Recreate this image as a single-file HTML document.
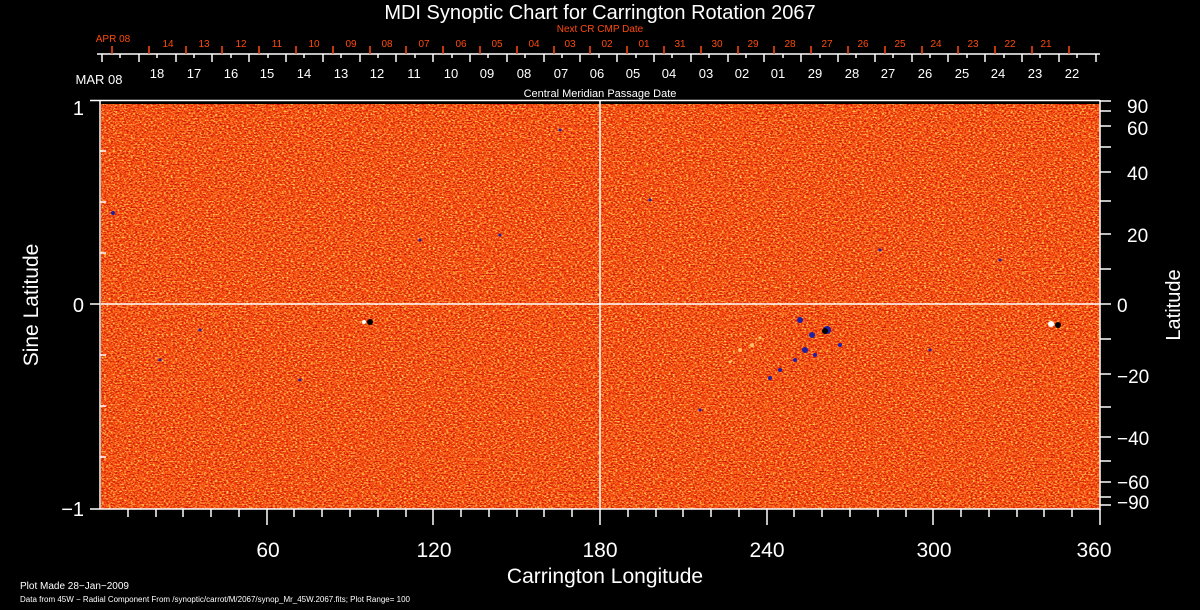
<!DOCTYPE html>
<html><head><meta charset="utf-8"><style>
html,body{margin:0;padding:0;background:#000;}
svg{display:block;}
text{font-family:"Liberation Sans",sans-serif;fill:#fff;}
</style></head><body>
<svg width="1200" height="610" viewBox="0 0 1200 610" xmlns="http://www.w3.org/2000/svg">
<defs>
<filter id="n" x="0" y="0" width="100%" height="100%" filterUnits="objectBoundingBox" color-interpolation-filters="sRGB">
<feTurbulence type="fractalNoise" baseFrequency="0.45 0.7" numOctaves="2" seed="7" result="t"/>
<feColorMatrix type="matrix" values="1 0 0 0 0 1 0 0 0 0 1 0 0 0 0 0 0 0 0 1"/>
<feComponentTransfer>
<feFuncR type="linear" slope="2.2" intercept="-0.6"/>
<feFuncG type="linear" slope="2.2" intercept="-0.6"/>
<feFuncB type="linear" slope="2.2" intercept="-0.6"/>
</feComponentTransfer>
<feComponentTransfer>
<feFuncR type="table" tableValues="0.78 0.88 0.94 0.98 1 1"/>
<feFuncG type="table" tableValues="0.08 0.16 0.26 0.38 0.52 0.8"/>
<feFuncB type="table" tableValues="0.05 0.04 0.06 0.1 0.15 0.35"/>
<feFuncA type="table" tableValues="1 1"/>
</feComponentTransfer>
</filter>
</defs>
<rect x="0" y="0" width="1200" height="610" fill="#000"/>
<rect x="101" y="104" width="999" height="405" fill="#e8501c"/>
<rect x="101" y="104" width="999" height="405" filter="url(#n)"/>
<g fill="#2020a0">
<circle cx="800" cy="320" r="3"/><circle cx="812" cy="335" r="3"/><circle cx="827" cy="330" r="4"/><circle cx="805" cy="350" r="3"/><circle cx="795" cy="360" r="2"/><circle cx="815" cy="355" r="2"/><circle cx="780" cy="370" r="2"/><circle cx="770" cy="378" r="2"/><circle cx="840" cy="345" r="2"/>
<circle cx="200" cy="330" r="1.5"/><circle cx="420" cy="240" r="1.5"/><circle cx="500" cy="235" r="1.5"/><circle cx="930" cy="350" r="1.5"/><circle cx="700" cy="410" r="1.5"/><circle cx="300" cy="380" r="1.5"/><circle cx="1000" cy="260" r="1.5"/><circle cx="650" cy="200" r="1.5"/>
<circle cx="113" cy="213" r="2"/><circle cx="160" cy="360" r="1.5"/><circle cx="880" cy="250" r="1.5"/><circle cx="560" cy="130" r="1.5"/>
</g>
<circle cx="825" cy="331" r="3" fill="#000"/>
<circle cx="370" cy="322" r="3" fill="#000"/><circle cx="364" cy="322" r="2" fill="#fff"/>
<circle cx="1058" cy="325" r="3" fill="#000"/><circle cx="1051" cy="324" r="3" fill="#fff"/>
<g fill="#ffe080" opacity="0.8">
<circle cx="740" cy="350" r="2"/><circle cx="752" cy="345" r="2"/><circle cx="730" cy="362" r="1.5"/><circle cx="760" cy="338" r="1.5"/>
</g>
<g stroke="#fff" stroke-width="1.5" fill="none">
<line x1="101" y1="304" x2="1100" y2="304"/>
<line x1="600" y1="101" x2="600" y2="509"/>
<line x1="90" y1="100.5" x2="1100" y2="100.5"/>
<line x1="90" y1="509" x2="1100" y2="509"/>
<line x1="1100" y1="100" x2="1100" y2="510"/>
<line x1="100" y1="100" x2="100" y2="509"/>
</g>
<g stroke="#fff" stroke-width="1.5">
<line x1="100" y1="151" x2="106" y2="151"/><line x1="100" y1="202" x2="106" y2="202"/><line x1="100" y1="253" x2="106" y2="253"/>
<line x1="90" y1="304" x2="100" y2="304"/>
<line x1="100" y1="355" x2="106" y2="355"/><line x1="100" y1="406" x2="106" y2="406"/><line x1="100" y1="457" x2="106" y2="457"/>
</g>
<g font-size="20" text-anchor="end">
<text x="84" y="115">1</text><text x="84" y="312">0</text><text x="84" y="516">−1</text>
</g>
<text x="38" y="305" font-size="21" text-anchor="middle" transform="rotate(-90 38 305)">Sine Latitude</text>
<g stroke="#fff" stroke-width="1.5">
<line x1="1100" y1="101" x2="1111" y2="101"/><line x1="1100" y1="111" x2="1111" y2="111"/><line x1="1100" y1="126" x2="1111" y2="126"/><line x1="1100" y1="147" x2="1111" y2="147"/><line x1="1100" y1="172" x2="1111" y2="172"/><line x1="1100" y1="201" x2="1111" y2="201"/><line x1="1100" y1="234" x2="1111" y2="234"/><line x1="1100" y1="269" x2="1111" y2="269"/><line x1="1100" y1="304" x2="1111" y2="304"/><line x1="1100" y1="339" x2="1111" y2="339"/><line x1="1100" y1="374" x2="1111" y2="374"/><line x1="1100" y1="407" x2="1111" y2="407"/><line x1="1100" y1="437" x2="1111" y2="437"/><line x1="1100" y1="461" x2="1111" y2="461"/><line x1="1100" y1="482" x2="1111" y2="482"/><line x1="1100" y1="497" x2="1111" y2="497"/><line x1="1100" y1="505" x2="1111" y2="505"/>
</g>
<g font-size="19">
<text x="1127" y="113">90</text><text x="1127" y="135">60</text><text x="1127" y="180">40</text><text x="1127" y="242">20</text><text x="1117" y="312">0</text><text x="1117" y="383">−20</text><text x="1117" y="445">−40</text><text x="1117" y="489">−60</text><text x="1117" y="509">−90</text>
</g>
<text x="1180" y="305" font-size="20" text-anchor="middle" transform="rotate(-90 1180 305)">Latitude</text>
<g stroke="#fff" stroke-width="1.5">
<line x1="128" y1="509" x2="128" y2="517"/><line x1="156" y1="509" x2="156" y2="517"/><line x1="183" y1="509" x2="183" y2="517"/><line x1="211" y1="509" x2="211" y2="517"/><line x1="239" y1="509" x2="239" y2="517"/><line x1="267" y1="509" x2="267" y2="525"/>
<line x1="294" y1="509" x2="294" y2="517"/><line x1="322" y1="509" x2="322" y2="517"/><line x1="350" y1="509" x2="350" y2="517"/><line x1="378" y1="509" x2="378" y2="517"/><line x1="406" y1="509" x2="406" y2="517"/><line x1="433" y1="509" x2="433" y2="525"/>
<line x1="461" y1="509" x2="461" y2="517"/><line x1="489" y1="509" x2="489" y2="517"/><line x1="517" y1="509" x2="517" y2="517"/><line x1="544" y1="509" x2="544" y2="517"/><line x1="572" y1="509" x2="572" y2="517"/><line x1="600" y1="509" x2="600" y2="525"/>
<line x1="628" y1="509" x2="628" y2="517"/><line x1="656" y1="509" x2="656" y2="517"/><line x1="683" y1="509" x2="683" y2="517"/><line x1="711" y1="509" x2="711" y2="517"/><line x1="739" y1="509" x2="739" y2="517"/><line x1="767" y1="509" x2="767" y2="525"/>
<line x1="794" y1="509" x2="794" y2="517"/><line x1="822" y1="509" x2="822" y2="517"/><line x1="850" y1="509" x2="850" y2="517"/><line x1="878" y1="509" x2="878" y2="517"/><line x1="906" y1="509" x2="906" y2="517"/><line x1="933" y1="509" x2="933" y2="525"/>
<line x1="961" y1="509" x2="961" y2="517"/><line x1="989" y1="509" x2="989" y2="517"/><line x1="1017" y1="509" x2="1017" y2="517"/><line x1="1044" y1="509" x2="1044" y2="517"/><line x1="1072" y1="509" x2="1072" y2="517"/><line x1="1100" y1="509" x2="1100" y2="525"/>
</g>
<g font-size="21" text-anchor="middle">
<text x="268" y="557">60</text><text x="434" y="557">120</text><text x="600" y="557">180</text><text x="767" y="557">240</text><text x="934" y="557">300</text><text x="1094" y="557">360</text>
</g>
<text x="605" y="583" font-size="21" text-anchor="middle">Carrington Longitude</text>
<text x="20" y="589" font-size="10">Plot Made 28−Jan−2009</text>
<text x="20" y="602" font-size="8">Data from 45W − Radial Component From /synoptic/carrot/M/2067/synop_Mr_45W.2067.fits; Plot Range=  100</text>
<text x="600" y="19" font-size="20" text-anchor="middle">MDI Synoptic Chart for Carrington Rotation 2067</text>
<text x="600" y="32" font-size="10" text-anchor="middle" style="fill:#ff4a10">Next CR CMP Date</text>
<text x="600" y="97" font-size="11" text-anchor="middle">Central Meridian Passage Date</text>
<line x1="97" y1="54" x2="1100" y2="54" stroke="#fff" stroke-width="1.5"/>
<g stroke="#fff" stroke-width="1.5">
<line x1="102" y1="54" x2="102" y2="62"/><line x1="139" y1="54" x2="139" y2="62"/><line x1="176" y1="54" x2="176" y2="62"/><line x1="212" y1="54" x2="212" y2="62"/><line x1="249" y1="54" x2="249" y2="62"/><line x1="286" y1="54" x2="286" y2="62"/><line x1="323" y1="54" x2="323" y2="62"/><line x1="360" y1="54" x2="360" y2="62"/><line x1="396" y1="54" x2="396" y2="62"/><line x1="433" y1="54" x2="433" y2="62"/><line x1="470" y1="54" x2="470" y2="62"/><line x1="507" y1="54" x2="507" y2="62"/><line x1="544" y1="54" x2="544" y2="62"/><line x1="580" y1="54" x2="580" y2="62"/><line x1="617" y1="54" x2="617" y2="62"/><line x1="654" y1="54" x2="654" y2="62"/><line x1="691" y1="54" x2="691" y2="62"/><line x1="728" y1="54" x2="728" y2="62"/><line x1="764" y1="54" x2="764" y2="62"/><line x1="801" y1="54" x2="801" y2="62"/><line x1="838" y1="54" x2="838" y2="62"/><line x1="875" y1="54" x2="875" y2="62"/><line x1="912" y1="54" x2="912" y2="62"/><line x1="948" y1="54" x2="948" y2="62"/><line x1="985" y1="54" x2="985" y2="62"/><line x1="1022" y1="54" x2="1022" y2="62"/><line x1="1059" y1="54" x2="1059" y2="62"/><line x1="1096" y1="54" x2="1096" y2="62"/>
</g>
<g stroke="#fff" stroke-width="1.5">
<line x1="120" y1="54" x2="120" y2="58"/><line x1="157" y1="54" x2="157" y2="58"/><line x1="194" y1="54" x2="194" y2="58"/><line x1="231" y1="54" x2="231" y2="58"/><line x1="268" y1="54" x2="268" y2="58"/><line x1="304" y1="54" x2="304" y2="58"/><line x1="341" y1="54" x2="341" y2="58"/><line x1="378" y1="54" x2="378" y2="58"/><line x1="415" y1="54" x2="415" y2="58"/><line x1="452" y1="54" x2="452" y2="58"/><line x1="488" y1="54" x2="488" y2="58"/><line x1="525" y1="54" x2="525" y2="58"/><line x1="562" y1="54" x2="562" y2="58"/><line x1="599" y1="54" x2="599" y2="58"/><line x1="636" y1="54" x2="636" y2="58"/><line x1="672" y1="54" x2="672" y2="58"/><line x1="709" y1="54" x2="709" y2="58"/><line x1="746" y1="54" x2="746" y2="58"/><line x1="783" y1="54" x2="783" y2="58"/><line x1="820" y1="54" x2="820" y2="58"/><line x1="856" y1="54" x2="856" y2="58"/><line x1="893" y1="54" x2="893" y2="58"/><line x1="930" y1="54" x2="930" y2="58"/><line x1="967" y1="54" x2="967" y2="58"/><line x1="1004" y1="54" x2="1004" y2="58"/><line x1="1040" y1="54" x2="1040" y2="58"/><line x1="1077" y1="54" x2="1077" y2="58"/>
</g>
<g stroke="#ff4a10" stroke-width="1.5">
<line x1="112" y1="54" x2="112" y2="46"/><line x1="149" y1="54" x2="149" y2="46"/><line x1="186" y1="54" x2="186" y2="46"/><line x1="222" y1="54" x2="222" y2="46"/><line x1="259" y1="54" x2="259" y2="46"/><line x1="296" y1="54" x2="296" y2="46"/><line x1="333" y1="54" x2="333" y2="46"/><line x1="370" y1="54" x2="370" y2="46"/><line x1="406" y1="54" x2="406" y2="46"/><line x1="443" y1="54" x2="443" y2="46"/><line x1="480" y1="54" x2="480" y2="46"/><line x1="517" y1="54" x2="517" y2="46"/><line x1="554" y1="54" x2="554" y2="46"/><line x1="590" y1="54" x2="590" y2="46"/><line x1="627" y1="54" x2="627" y2="46"/><line x1="664" y1="54" x2="664" y2="46"/><line x1="701" y1="54" x2="701" y2="46"/><line x1="738" y1="54" x2="738" y2="46"/><line x1="774" y1="54" x2="774" y2="46"/><line x1="811" y1="54" x2="811" y2="46"/><line x1="848" y1="54" x2="848" y2="46"/><line x1="885" y1="54" x2="885" y2="46"/><line x1="922" y1="54" x2="922" y2="46"/><line x1="958" y1="54" x2="958" y2="46"/><line x1="995" y1="54" x2="995" y2="46"/><line x1="1032" y1="54" x2="1032" y2="46"/><line x1="1069" y1="54" x2="1069" y2="46"/>
</g>
<g font-size="10" text-anchor="middle">
<text x="113" y="42" style="fill:#ff4a10">APR 08</text>
<text x="168" y="47" style="fill:#ff4a10">14</text><text x="204" y="47" style="fill:#ff4a10">13</text><text x="241" y="47" style="fill:#ff4a10">12</text><text x="277" y="47" style="fill:#ff4a10">11</text><text x="314" y="47" style="fill:#ff4a10">10</text><text x="351" y="47" style="fill:#ff4a10">09</text><text x="387" y="47" style="fill:#ff4a10">08</text><text x="424" y="47" style="fill:#ff4a10">07</text><text x="461" y="47" style="fill:#ff4a10">06</text><text x="497" y="47" style="fill:#ff4a10">05</text><text x="534" y="47" style="fill:#ff4a10">04</text><text x="570" y="47" style="fill:#ff4a10">03</text><text x="607" y="47" style="fill:#ff4a10">02</text><text x="644" y="47" style="fill:#ff4a10">01</text><text x="680" y="47" style="fill:#ff4a10">31</text><text x="717" y="47" style="fill:#ff4a10">30</text><text x="753" y="47" style="fill:#ff4a10">29</text><text x="790" y="47" style="fill:#ff4a10">28</text><text x="827" y="47" style="fill:#ff4a10">27</text><text x="863" y="47" style="fill:#ff4a10">26</text><text x="900" y="47" style="fill:#ff4a10">25</text><text x="936" y="47" style="fill:#ff4a10">24</text><text x="973" y="47" style="fill:#ff4a10">23</text><text x="1010" y="47" style="fill:#ff4a10">22</text><text x="1046" y="47" style="fill:#ff4a10">21</text>
</g>
<text x="99" y="84" font-size="13" text-anchor="middle">MAR 08</text>
<g font-size="13" text-anchor="middle">
<text x="157" y="78">18</text><text x="194" y="78">17</text><text x="231" y="78">16</text><text x="267" y="78">15</text><text x="304" y="78">14</text><text x="341" y="78">13</text><text x="377" y="78">12</text><text x="414" y="78">11</text><text x="451" y="78">10</text><text x="487" y="78">09</text><text x="524" y="78">08</text><text x="561" y="78">07</text><text x="597" y="78">06</text><text x="633" y="78">05</text><text x="669" y="78">04</text><text x="706" y="78">03</text><text x="742" y="78">02</text><text x="778" y="78">01</text><text x="815" y="78">29</text><text x="852" y="78">28</text><text x="888" y="78">27</text><text x="925" y="78">26</text><text x="962" y="78">25</text><text x="998" y="78">24</text><text x="1035" y="78">23</text><text x="1072" y="78">22</text>
</g>
</svg>
</body></html>
